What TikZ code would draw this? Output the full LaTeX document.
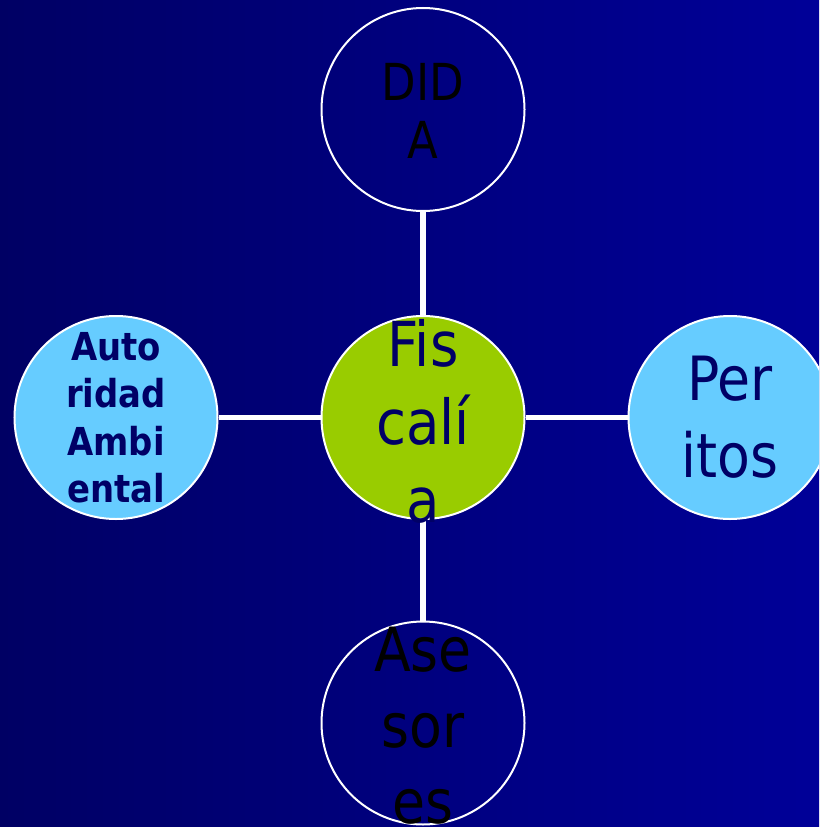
\documentclass[tikz,border=0pt]{standalone}
\usepackage{fontspec}
\setmainfont{DejaVu Sans}[FakeStretch=0.88]
\definecolor{bgleft}{RGB}{0,0,100}
\definecolor{bgright}{RGB}{0,0,152}
\definecolor{navytext}{RGB}{0,0,102}
\definecolor{greenfill}{RGB}{153,204,0}
\definecolor{bluefill}{RGB}{102,204,255}
\tikzset{
  circ/.style={circle, draw=white, line width=2pt, minimum size=203pt, inner sep=0pt},
  link/.style={draw=white, line width=5.5pt},
  lbl/.style={align=center, inner sep=0pt},
}
\begin{document}
\begin{tikzpicture}[x=1pt,y=-1pt]
\useasboundingbox (0,0) rectangle (819,827);
\clip (0,0) rectangle (819,827);
\shade[left color=bgleft, right color=bgright] (0,0) rectangle (819,827);
% circles
\node[circ] (dida) at (423,109.5) {};
\node[circ, fill=greenfill] (fisc) at (423,417.5) {};
\node[circ, fill=bluefill] (peri) at (730,417.5) {};
\node[circ, fill=bluefill] (auto) at (116,417.5) {};
\node[circ] (ases) at (423,723) {};
% connectors
\draw[link] (dida) -- (fisc);
\draw[link] (fisc) -- (peri);
\draw[link] (fisc) -- (auto);
\draw[link] (fisc) -- (ases);
% labels
\node[lbl, text=black, font=\fontsize{51}{58}\selectfont] (didat) at (423,111) {DID\\A};
\node[lbl, text=navytext, font=\fontsize{62}{78}\selectfont] (fisct) at (423,421) {Fis\\calí\\a};
\node[lbl, text=navytext, font=\fontsize{61}{77}\selectfont] (perit) at (peri) {Per\\itos};
\node[lbl, text=navytext, font=\bfseries\fontsize{38.5}{47.5}\selectfont] (autot) at (auto) {Auto\\ridad\\Ambi\\ental};
\node[lbl, text=black, font=\fontsize{61}{76}\selectfont] (asest) at (423,726) {Ase\\sor\\es};
\end{tikzpicture}
\end{document}
